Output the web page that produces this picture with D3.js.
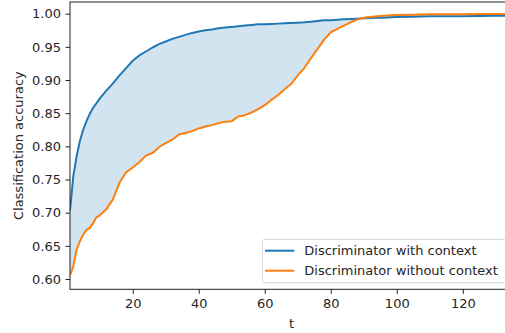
<!DOCTYPE html>
<html>
<head>
<meta charset="utf-8">
<script src="https://cdn.jsdelivr.net/npm/d3@7"></script>
<style>
  body { margin: 0; background: #fff; }
  svg { display: block; overflow: hidden; }
  text { font-family: "DejaVu Sans", sans-serif; font-size: 13px; fill: #262626; }
</style>
</head>
<body>
<div id="chart"></div>
<script>
const t_values = [1, 2, 3, 4, 5, 6, 7, 8, 9, 10, 12, 14, 16, 18, 20, 22, 24, 26, 28, 30,
  32, 34, 36, 38, 40, 42, 44, 46, 48, 50, 52, 54, 56, 58, 60, 62, 64, 66, 68, 70,
  72, 74, 76, 78, 80, 82, 84, 86, 88, 90, 92, 94, 96, 98, 100, 105, 110, 115, 120, 125, 130, 135];

const with_context = [0.703, 0.755, 0.785, 0.808, 0.825, 0.838, 0.849, 0.858, 0.865, 0.872,
  0.884, 0.895, 0.907, 0.918, 0.929, 0.937, 0.943, 0.949, 0.954, 0.958,
  0.962, 0.965, 0.968, 0.971, 0.973, 0.975, 0.976, 0.978, 0.979, 0.980,
  0.981, 0.982, 0.983, 0.984, 0.984, 0.9845, 0.985, 0.9855, 0.986, 0.9865,
  0.987, 0.988, 0.989, 0.990, 0.990, 0.991, 0.9915, 0.992, 0.9925, 0.993,
  0.9935, 0.994, 0.994, 0.9945, 0.995, 0.9955, 0.996, 0.996, 0.9962, 0.9965, 0.9968, 0.997];

const without_context = [0.606, 0.619, 0.644, 0.657, 0.667, 0.674, 0.677, 0.684, 0.693, 0.696,
  0.705, 0.720, 0.745, 0.761, 0.768, 0.776, 0.786, 0.790, 0.799, 0.805,
  0.810, 0.818, 0.820, 0.823, 0.827, 0.830, 0.832, 0.835, 0.837, 0.838,
  0.845, 0.847, 0.851, 0.856, 0.862, 0.870, 0.877, 0.886, 0.894, 0.907,
  0.918, 0.933, 0.947, 0.961, 0.972, 0.977, 0.982, 0.987, 0.991, 0.994,
  0.995, 0.996, 0.997, 0.9975, 0.998, 0.9985, 0.999, 0.999, 0.9992, 0.9994, 0.9995, 0.9995];

const x_ticks = [20, 40, 60, 80, 100, 120];
const y_ticks = [0.60, 0.65, 0.70, 0.75, 0.80, 0.85, 0.90, 0.95, 1.00];
const series_names = ["Discriminator with context", "Discriminator without context"];
const series_colors = ["#1f77b4", "#ff7f0e"];

let width = 505, height = 333;
let plot = {left: 70, right: 513.3, top: 2, bottom: 289.3};

let x = d3.scaleLinear().domain([1, 135.3]).range([plot.left, plot.right]);
let y = d3.scaleLinear().domain([0.5845, 1.0176]).range([plot.bottom, plot.top]);

let svg = d3.select("#chart").append("svg")
    .attr("width", width)
    .attr("height", height);

svg.append("clipPath").attr("id", "plot-clip")
  .append("rect")
    .attr("x", plot.left).attr("y", plot.top)
    .attr("width", plot.right - plot.left).attr("height", plot.bottom - plot.top);

let rows = t_values.map(function(t, i) {
  return {t: t, a: with_context[i], b: without_context[i]};
});

let g = svg.append("g").attr("clip-path", "url(#plot-clip)");

g.append("path")
  .datum(rows)
  .attr("fill", "#1f77b4")
  .attr("fill-opacity", 0.2)
  .attr("d", d3.area()
    .x(function(d) { return x(d.t); })
    .y0(function(d) { return y(d.b); })
    .y1(function(d) { return y(d.a); }));

[with_context, without_context].forEach(function(vals, i) {
  g.append("path")
    .datum(vals)
    .attr("fill", "none")
    .attr("stroke", series_colors[i])
    .attr("stroke-width", 2)
    .attr("stroke-linejoin", "round")
    .attr("d", d3.line()
      .x(function(d, j) { return x(t_values[j]); })
      .y(function(d) { return y(d); }));
});

// spines
svg.append("rect")
  .attr("x", plot.left).attr("y", plot.top)
  .attr("width", plot.right - plot.left).attr("height", plot.bottom - plot.top)
  .attr("fill", "none")
  .attr("stroke", "#222")
  .attr("stroke-width", 1);

// axes
let x_axis = svg.append("g")
  .attr("transform", "translate(0," + plot.bottom + ")")
  .call(d3.axisBottom(x).tickValues(x_ticks).tickSize(4.5).tickPadding(4.5).tickFormat(d3.format("d")));
let y_axis = svg.append("g")
  .attr("transform", "translate(" + plot.left + ",0)")
  .call(d3.axisLeft(y).tickValues(y_ticks).tickSize(4.5).tickPadding(4.5).tickFormat(d3.format(".2f")));

[x_axis, y_axis].forEach(function(a) {
  a.select(".domain").remove();
  a.selectAll(".tick line").attr("stroke", "#222");
  a.selectAll(".tick text")
    .attr("fill", "#262626")
    .style("font-family", "DejaVu Sans, sans-serif")
    .style("font-size", "13px");
});

svg.append("text")
  .attr("x", (plot.left + plot.right) / 2)
  .attr("y", 328)
  .attr("text-anchor", "middle")
  .text("t");

svg.append("text")
  .attr("transform", "translate(22.5," + (plot.top + plot.bottom) / 2 + ") rotate(-90)")
  .attr("text-anchor", "middle")
  .text("Classification accuracy");

// legend
let legend = svg.append("g");
legend.append("rect")
  .attr("x", 262.3).attr("y", 239.3)
  .attr("width", 244.5).attr("height", 43.5)
  .attr("rx", 2.6)
  .attr("fill", "#fff").attr("fill-opacity", 0.8)
  .attr("stroke", "#d5d5d5").attr("stroke-width", 1);

series_names.forEach(function(name, i) {
  let ly = 250.7 + i * 20;
  legend.append("line")
    .attr("x1", 265).attr("x2", 294.3)
    .attr("y1", ly).attr("y2", ly)
    .attr("stroke", series_colors[i])
    .attr("stroke-width", 2);
  legend.append("text")
    .attr("x", 304.3)
    .attr("y", ly + 4.5)
    .text(name);
});
</script>
</body>
</html>
